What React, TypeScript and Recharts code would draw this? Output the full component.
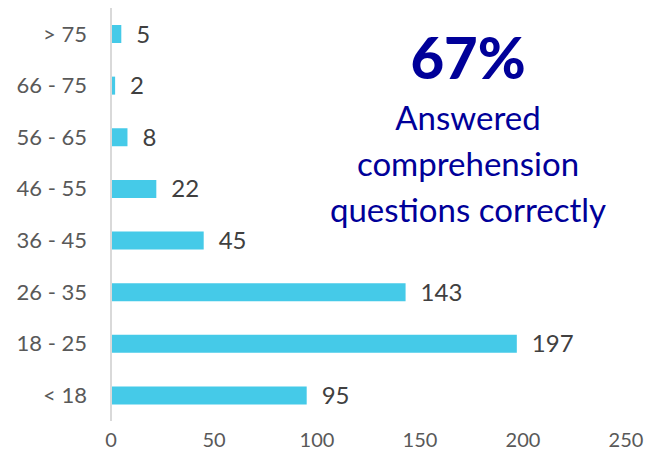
import { BarChart, Bar, XAxis, YAxis, LabelList } from "recharts";

const ageGroups = ["> 75", "66 - 75", "56 - 65", "46 - 55", "36 - 45", "26 - 35", "18 - 25", "< 18"];
const respondents = [5, 2, 8, 22, 45, 143, 197, 95];
const xTicks = [0, 50, 100, 150, 200, 250];

const data = ageGroups.map((name, i) => ({ name, value: respondents[i] }));

const FONT = "Lato, 'Open Sans', sans-serif";
const BLUE = "#000099";

export default function App() {
  return (
    <div style={{ position: "absolute", left: 0, top: 0, width: 646, height: 459, background: "#fff", fontFamily: FONT }}>
      <BarChart
        width={646}
        height={459}
        data={data}
        layout="vertical"
        margin={{ top: 8, right: 20, bottom: 0, left: 0 }}
      >
        <XAxis
          type="number"
          domain={[0, 250]}
          ticks={xTicks}
          axisLine={false}
          tickLine={false}
          height={38}
          tickMargin={6}
          tick={{ fill: "#595959", fontSize: 20, fontFamily: FONT }}
        />
        <YAxis
          type="category"
          dataKey="name"
          width={111}
          axisLine={{ stroke: "#d9d9d9", strokeWidth: 2 }}
          tickLine={false}
          tickMargin={18}
          tick={{ fill: "#595959", fontSize: 22, fontFamily: FONT }}
        />
        <Bar dataKey="value" fill="#45CAE8" barSize={18} isAnimationActive={false}>
          <LabelList
            dataKey="value"
            position="right"
            offset={15}
            style={{ fill: "#404040", fontSize: 24, fontFamily: FONT }}
          />
        </Bar>
      </BarChart>
      <div
        style={{
          position: "absolute",
          left: 318,
          top: 22,
          width: 300,
          textAlign: "center",
          color: BLUE,
        }}
      >
        <div style={{ fontSize: 58, fontWeight: 900, lineHeight: "70px" }}>67%</div>
        <div style={{ fontSize: 33, lineHeight: "46px", marginTop: 2 }}>
          Answered
          <br />
          comprehension
          <br />
          questions correctly
        </div>
      </div>
    </div>
  );
}
